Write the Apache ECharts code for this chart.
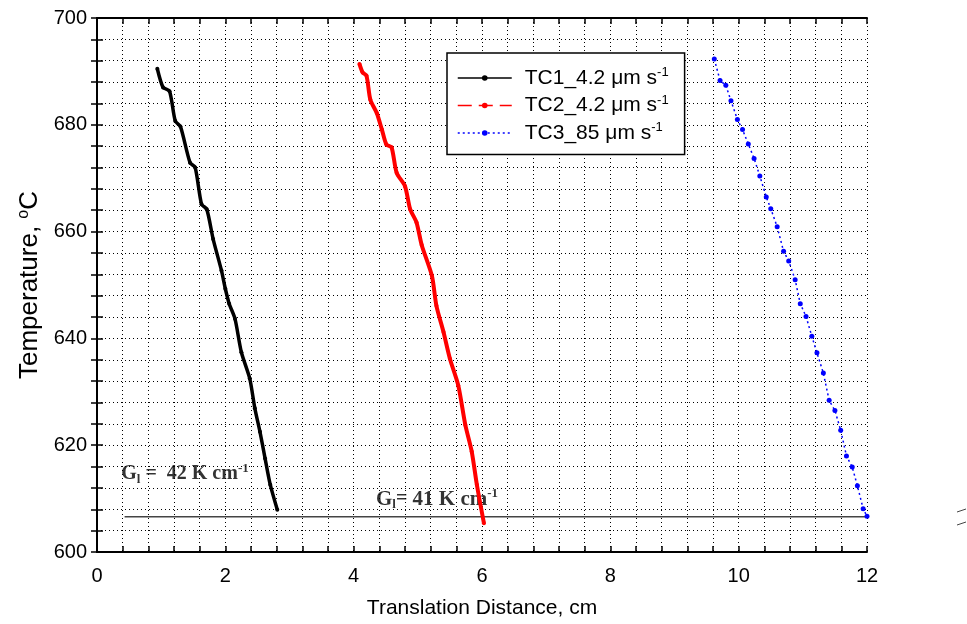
<!DOCTYPE html>
<html><head><meta charset="utf-8">
<script src="https://cdn.jsdelivr.net/npm/echarts@6/dist/echarts.min.js"></script>
<style>html,body{margin:0;padding:0;background:#fff}#c{width:967px;height:624px}</style>
</head><body><div id="c"></div>
<script>
const xTicks = [0, 2, 4, 6, 8, 10, 12];
const yTicks = [600, 620, 640, 660, 680, 700];
const seriesNames = ['TC1_4.2 μm s', 'TC2_4.2 μm s', 'TC3_85 μm s'];

const tc1X = [0.94,1.03,1.13,1.22,1.30,1.45,1.53,1.63,1.71,1.81,1.94,2.00,2.06,2.15,2.25,2.38,2.46,2.54,2.62,2.70,2.81];
const tc1T = [690.5,687.0,686.3,680.7,679.7,672.9,672.0,665.1,664.2,658.6,652.7,649.3,646.5,643.7,637.4,632.5,626.9,622.5,617.5,612.6,607.9];

const tc2X = [4.09,4.14,4.20,4.26,4.36,4.44,4.51,4.59,4.67,4.80,4.88,4.98,5.06,5.22,5.29,5.40,5.50,5.63,5.74,5.84,5.92,6.03];
const tc2T = [691.4,689.8,689.2,684.7,682.2,679.1,676.3,675.8,671.0,668.5,664.2,661.7,657.5,651.7,646.1,641.2,636.2,631.2,623.8,618.8,612.6,605.4];

const tc3X = [9.62,9.71,9.80,9.88,9.98,10.06,10.15,10.24,10.33,10.43,10.50,10.60,10.70,10.78,10.88,10.96,11.05,11.14,11.22,11.32,11.41,11.50,11.59,11.68,11.77,11.85,11.94,12.0];
const tc3T = [692.3,688.3,687.4,684.5,681.0,679.1,676.4,673.7,670.4,666.5,664.3,660.9,656.3,654.5,651.0,646.5,644.1,640.4,637.3,633.5,628.4,626.5,622.8,618.0,615.9,612.4,608.1,606.7];

const refLineX = [0.43, 13.6];
const refLineT = [606.6, 606.6];

const zip = (a, b) => a.map((v, i) => [v, b[i]]);

const chart = echarts.init(document.getElementById('c'), null, {renderer: 'canvas'});
const font = 'Liberation Sans, Arial, sans-serif';
const serif = 'Liberation Serif, Times New Roman, serif';

const axisCommon = {
  axisLine: {show: true, lineStyle: {color: '#000', width: 2}},
  axisTick: {show: true, inside: true, length: 6, lineStyle: {color: '#000', width: 1.5}},
  minorTick: {show: true, splitNumber: 5, length: 6, lineStyle: {color: '#000', width: 1.5}},
};
const dotted = {color: '#000', type: [1, 3], width: 1};

const option = {
  animation: false,
  backgroundColor: '#fff',
  grid: {left: 97, top: 18, right: 100, bottom: 70, containLabel: false},
  xAxis: [{
    type: 'value', min: xTicks[0], max: xTicks[xTicks.length - 1], interval: 2,
    ...axisCommon,
    axisLabel: {color: '#000', fontFamily: font, fontSize: 20, margin: 14},
    splitLine: {show: true, lineStyle: dotted},
    minorSplitLine: {show: true, lineStyle: dotted},
    name: 'Translation Distance, cm', nameLocation: 'middle', nameGap: 46,
    nameTextStyle: {color: '#000', fontFamily: font, fontSize: 21}
  }, {
    type: 'value', min: xTicks[0], max: xTicks[xTicks.length - 1], interval: 2, position: 'top',
    ...axisCommon, axisLabel: {show: false}, splitLine: {show: false}
  }],
  yAxis: [{
    type: 'value', min: yTicks[0], max: yTicks[yTicks.length - 1], interval: 20,
    ...axisCommon,
    axisLabel: {color: '#000', fontFamily: font, fontSize: 20, margin: 10},
    splitLine: {show: true, lineStyle: dotted},
    minorSplitLine: {show: true, lineStyle: dotted},
    name: 'Temperature, {sup|o}C', nameLocation: 'middle', nameGap: 53,
    nameTextStyle: {color: '#000', fontFamily: font, fontSize: 26,
      rich: {sup: {fontSize: 16, verticalAlign: 'top', padding: [0, 0, 12, 0], fontFamily: font, color: '#000'}}}
  }, {
    type: 'value', min: yTicks[0], max: yTicks[yTicks.length - 1], interval: 20, position: 'right',
    ...axisCommon, axisLabel: {show: false}, splitLine: {show: false}
  }],
  legend: {
    orient: 'vertical', left: 447, top: 53,
    data: [
      {name: seriesNames[0], lineStyle: {width: 1.5, type: 'solid'}},
      {name: seriesNames[1], lineStyle: {width: 1.5, type: [14, 7]}},
      {name: seriesNames[2], lineStyle: {width: 1.5, type: [2, 3]}}
    ],
    backgroundColor: '#fff', borderColor: '#000', borderWidth: 1.5,
    padding: [13, 16, 11, 10],
    itemWidth: 54, itemHeight: 7, itemGap: 5,
    formatter: n => n + '{sup|-1}',
    textStyle: {color: '#000', fontFamily: font, fontSize: 21, padding: [0, 0, 0, 8],
      rich: {sup: {fontSize: 13, verticalAlign: 'top', padding: [0, 0, 11, 0], fontFamily: font, color: '#000'}}}
  },
  series: [
    {
      name: seriesNames[0], type: 'line', data: zip(tc1X, tc1T), smooth: 0.25,
      lineStyle: {color: '#000', width: 3.5}, itemStyle: {color: '#000'},
      symbol: 'circle', symbolSize: 4, showSymbol: true, z: 5
    },
    {
      name: seriesNames[1], type: 'line', data: zip(tc2X, tc2T), smooth: 0.25,
      lineStyle: {color: '#ff0000', width: 4}, itemStyle: {color: '#ff0000'},
      symbol: 'circle', symbolSize: 4, showSymbol: true, z: 5
    },
    {
      name: seriesNames[2], type: 'line', data: zip(tc3X, tc3T),
      lineStyle: {color: '#0000ff', width: 1.5, type: [2, 3]}, itemStyle: {color: '#0000ff'},
      symbol: 'circle', symbolSize: 5, showSymbol: true, z: 5, clip: false
    },
    {
      name: 'ref', type: 'line', data: zip(refLineX, refLineT),
      lineStyle: {color: '#444', width: 1.5}, symbol: 'none', clip: false, z: 4,
      silent: true
    },
    {
      name: 'labels', type: 'scatter', symbolSize: 0, silent: true,
      data: [
        {value: [0.3, 614.6], label: {show: true, position: 'right', formatter: 'G{sub|l}{sp| =}  42 K cm{sup|-1}'}},
        {value: [4.27, 609.9], label: {show: true, position: 'right', fontSize: 21, formatter: 'G{sub|l}{sp|=} 41 K cm{sup|-1}'}}
      ],
      label: {color: '#000', fontFamily: serif, fontWeight: 'bold', fontSize: 20,
        rich: {
          sub: {fontFamily: serif, fontWeight: 'bold', fontSize: 13, verticalAlign: 'bottom', padding: [9, 0, 0, 0], color: '#000'},
          sp: {fontFamily: serif, fontWeight: 'bold', fontSize: 20, color: '#000'},
          sup: {fontFamily: serif, fontWeight: 'bold', fontSize: 13, verticalAlign: 'top', padding: [0, 0, 11, 0], color: '#000'}
        }}
    }
  ],
  graphic: [
    {type: 'line', shape: {x1: 957, y1: 512, x2: 966, y2: 509}, style: {stroke: '#444', lineWidth: 1}},
    {type: 'line', shape: {x1: 957, y1: 525, x2: 966, y2: 522}, style: {stroke: '#444', lineWidth: 1}}
  ]
};
chart.setOption(option);
</script>
</body></html>
